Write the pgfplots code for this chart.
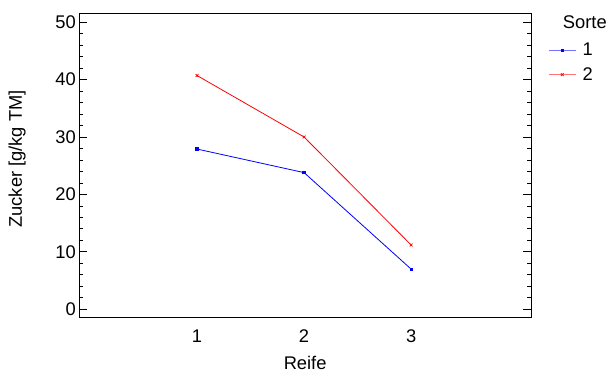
\documentclass[border=0pt]{standalone}
\usepackage{pgfplots}
\pgfplotsset{compat=1.18}
\usepackage{fontspec}
\setmainfont{Liberation Sans}
\begin{document}
\begin{tikzpicture}[font=\fontsize{18.4}{22}\selectfont]
\path[use as bounding box] (-79.3bp,-61.3bp) rectangle (532.7bp,317.7bp);
\begin{axis}[
  anchor=south west, at={(0,0)},
  scale only axis, width=451.7bp, height=304.2bp,
  xmin=-0.1, xmax=4.12, ymin=-1.46, ymax=51.5,
  xtick={1,2,3}, ytick={0,10,...,50}, minor y tick num=4,
  tick align=inside, xtick style={draw=none},
  major tick length=8bp, minor tick length=4bp,
  axis line style={line width=1pt},
  every tick/.style={black, line width=0.8pt},
  /pgf/number format/assume math mode=true,
  ticklabel style={font=\fontsize{18.4}{22}\selectfont},
  xticklabel style={anchor=base, yshift=-25bp},
  xlabel={Reife}, ylabel={Zucker [g/kg TM]},
  every axis x label/.style={at={(axis description cs:0.5,-0.1719)}, anchor=base},
  every axis y label/.style={at={(axis description cs:-0.1379,0.522)}, rotate=90, anchor=center},
  label style={font=\fontsize{18.4}{22}\selectfont},
  legend style={at={(axis description cs:1.0383,0.903)}, anchor=north west, draw=none, fill=none,
    inner sep=0pt, nodes={inner sep=0pt}, column sep=6.7bp,
    font=\fontsize{18.4}{22}\selectfont, row sep=10.2bp},
  legend cell align=left,
  legend image code/.code={
    \draw[#1, opacity=0.55, mark=none] (0bp,0bp) -- (26.7bp,0bp);
    \draw[#1, line width=0.8pt] plot coordinates {(13.35bp,0bp)};
  },
  clip=false,
]
\addplot[blue, line width=0.8pt, mark=square*, mark size=1.2pt] coordinates {(1,27.9) (2,23.8) (3,7.0)};
\addlegendentry{1}
\addplot[red, line width=0.8pt, mark=x, mark size=2pt] coordinates {(1,40.7) (2,30.0) (3,11.2)};
\addlegendentry{2}
\node[anchor=base west, inner sep=0pt] at (axis description cs:1.0702,0.9513) {Sorte};
\end{axis}
\end{tikzpicture}
\end{document}
